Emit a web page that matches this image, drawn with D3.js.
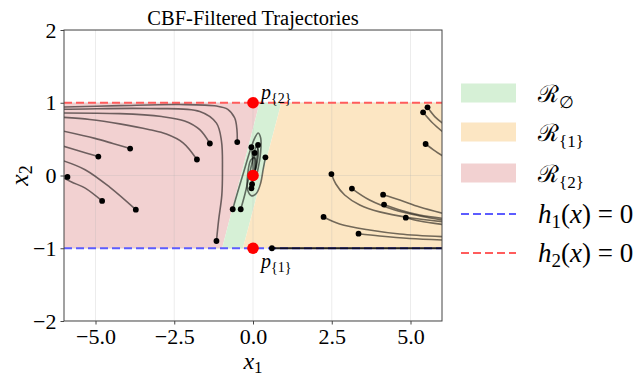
<!DOCTYPE html>
<html lang="en">
<head>
<meta charset="UTF-8">
<title>CBF-Filtered Trajectories</title>
<script src="https://d3js.org/d3.v7.min.js"></script>
<style>
    body { margin: 0; background: #fff; }
    svg text { font-family: "Liberation Serif", serif; fill: #000; }
    .math { font-style: italic; }
</style>
</head>
<body>
<div id="chart"></div>
<script>
// axis ticks
const xTicks = [-5, -2.5, 0, 2.5, 5];
const yTicks = [-2, -1, 0, 1, 2];

// region boundaries (slanted lines between y=-1 and y=1)
const leftBound = [[-0.98, -1], [0.21, 1]];
const rightBound = [[-0.32, -1], [0.90, 1]];

// special points
const pPoints = [[0, 1], [0, 0], [0, -1]];

// trajectories, first point is the start (dot)
const trajRed = [
    [[-3.90, 0.37], [-4.45, 0.44], [-5.02, 0.51], [-6.02, 0.61]],
    [[-4.91, 0.26], [-5.54, 0.34], [-6.07, 0.41]],
    [[-4.79, -0.35], [-5.34, -0.17], [-5.76, -0.09], [-6.07, -0.02]],
    [[-3.72, -0.47], [-4.55, -0.16], [-5.33, 0.08], [-6.07, 0.21]],
    [[-5.89, -0.02], [-6.05, 0.0]],
    [[-0.50, 0.46], [-0.51, 0.63], [-0.58, 0.79], [-0.80, 0.91], [-1.16, 0.955], [-2.33, 0.975], [-4.23, 0.96], [-6.05, 0.94]],
    [[-1.16, -0.90], [-1.09, -0.61], [-0.99, -0.27], [-0.97, 0.07], [-1.00, 0.47], [-1.16, 0.72], [-1.69, 0.88], [-3.28, 0.92], [-6.05, 0.91]],
    [[-1.37, 0.44], [-1.69, 0.63], [-2.17, 0.75], [-2.90, 0.81], [-4.23, 0.85], [-6.05, 0.86]],
    [[-1.78, 0.22], [-2.22, 0.45], [-2.75, 0.57], [-3.28, 0.63], [-4.23, 0.71], [-5.18, 0.77], [-6.05, 0.80]]
];
const trajGreen = [
    [[-0.644, -0.464], [-0.486, -0.227], [-0.295, 0.048], [-0.105, 0.323], [0.054, 0.515], [0.165, 0.584], [0.244, 0.515], [0.244, 0.323], [0.165, 0.103], [0.054, -0.062], [-0.04, -0.03]],
    [[-0.39, -0.464], [-0.263, -0.268], [-0.137, -0.034], [-0.01, 0.213], [0.10, 0.39], [0.165, 0.35], [0.117, 0.144], [0.02, 0.007]],
    [[0.394, 0.25], [0.32, 0.076], [0.244, -0.103], [0.117, -0.24], [-0.04, -0.28], [-0.17, -0.2], [-0.17, 0.007], [-0.07, 0.213], [0.054, 0.24], [0.086, 0.103], [0.02, 0.007]],
    [[0.16, 0.42], [0.117, 0.213], [0.054, 0.048]],
    [[-0.05, 0.39], [-0.01, 0.213], [0.005, 0.05]],
    [[0.054, 0.31], [0.054, 0.08]],
    [[-0.03, -0.12], [0.0, -0.035]],
    [[-0.05, -0.176], [-0.01, -0.06]]
];
const trajOrange = [
    [[2.49, 0.02], [2.63, -0.117], [2.91, -0.268], [3.39, -0.405], [4.02, -0.50], [4.97, -0.58], [6.02, -0.635]],
    [[3.14, -0.18], [3.70, -0.337], [4.50, -0.474], [5.29, -0.556], [6.02, -0.611]],
    [[4.13, -0.264], [4.66, -0.337], [5.29, -0.433], [6.02, -0.519]],
    [[4.16, -0.40], [4.66, -0.474], [5.29, -0.543], [6.02, -0.588]],
    [[4.85, -0.58], [5.29, -0.625], [6.02, -0.673]],
    [[2.24, -0.57], [2.75, -0.666], [3.70, -0.749], [4.66, -0.804], [6.02, -0.841]],
    [[3.35, -0.80], [4.02, -0.831], [4.97, -0.865], [6.02, -0.886]],
    [[5.54, 0.937], [5.77, 0.81], [6.02, 0.72]],
    [[5.40, 0.868], [5.67, 0.735], [6.02, 0.60]],
    [[5.48, 0.433], [5.74, 0.35], [6.02, 0.27]]
];
// trajectory sliding along the boundary h1 = 0
const trajEdge = [[0.6, -1], [6.05, -1]];

const W = 637, H = 379;
const margin = { top: 30, right: 195, bottom: 58, left: 64 };
const serif = "'Liberation Serif', serif";

const svg = d3.select("#chart").append("svg")
    .attr("width", W)
    .attr("height", H);

const x = d3.scaleLinear().domain([-6, 6]).range([margin.left, W - margin.right]);
const y = d3.scaleLinear().domain([-2, 2]).range([H - margin.bottom, margin.top]);

svg.append("clipPath").attr("id", "plot-clip")
    .append("rect")
    .attr("x", x(-6)).attr("y", y(2))
    .attr("width", x(6) - x(-6)).attr("height", y(-2) - y(2));

const plot = svg.append("g").attr("clip-path", "url(#plot-clip)");

// regions
const poly = pts => pts.map(p => [x(p[0]), y(p[1])].join(",")).join(" ");
const colGreen = "#d6f0d6", colOrange = "#fce6c3", colRed = "#f2d1d1";

plot.append("polygon")
    .attr("points", poly([[-6, -1], leftBound[0], leftBound[1], [-6, 1]]))
    .attr("fill", colRed);
plot.append("polygon")
    .attr("points", poly([leftBound[0], rightBound[0], rightBound[1], leftBound[1]]))
    .attr("fill", colGreen);
plot.append("polygon")
    .attr("points", poly([rightBound[0], [6, -1], [6, 1], rightBound[1]]))
    .attr("fill", colOrange);

// grid
plot.selectAll(".gx").data(xTicks).enter().append("line")
    .attr("x1", d => x(d)).attr("x2", d => x(d))
    .attr("y1", y(-2)).attr("y2", y(2))
    .attr("stroke", "#b0b0b0").attr("stroke-opacity", 0.3).attr("stroke-width", 0.8);
plot.selectAll(".gy").data(yTicks).enter().append("line")
    .attr("x1", x(-6)).attr("x2", x(6))
    .attr("y1", d => y(d)).attr("y2", d => y(d))
    .attr("stroke", "#b0b0b0").attr("stroke-opacity", 0.3).attr("stroke-width", 0.8);

// boundaries h1 = 0 and h2 = 0
plot.append("line")
    .attr("x1", x(-6)).attr("x2", x(6)).attr("y1", y(-1)).attr("y2", y(-1))
    .attr("stroke", "#5c5cff").attr("stroke-width", 2.2).attr("stroke-dasharray", "8,4");
plot.append("line")
    .attr("x1", x(-6)).attr("x2", x(6)).attr("y1", y(1)).attr("y2", y(1))
    .attr("stroke", "#ff5c5c").attr("stroke-width", 2.2).attr("stroke-dasharray", "8,4");

// trajectories
const line = d3.line().x(d => x(d[0])).y(d => y(d[1])).curve(d3.curveCatmullRom.alpha(0.5));
const allTraj = trajRed.concat(trajGreen, trajOrange);

plot.selectAll(".traj").data(allTraj).enter().append("path")
    .attr("class", "traj")
    .attr("d", line)
    .attr("fill", "none")
    .attr("stroke", "#000")
    .attr("stroke-opacity", 0.55)
    .attr("stroke-width", 1.6);

plot.append("path")
    .attr("d", line(trajEdge))
    .attr("fill", "none")
    .attr("stroke", "#000")
    .attr("stroke-opacity", 0.85)
    .attr("stroke-width", 2);

plot.selectAll(".start").data(allTraj.map(t => t[0]).concat([trajEdge[0]])).enter().append("circle")
    .attr("cx", d => x(d[0])).attr("cy", d => y(d[1]))
    .attr("r", 2.9).attr("fill", "#000");

// p points
svg.selectAll(".pp").data(pPoints).enter().append("circle")
    .attr("cx", d => x(d[0])).attr("cy", d => y(d[1]))
    .attr("r", 5.8).attr("fill", "#ff0000");

const pLab = svg.append("g");
[[1, "{2}", -4], [-1, "{1}", 20]].forEach(([v, sub, dy]) => {
    const t = pLab.append("text")
        .attr("x", x(0) + 8).attr("y", y(v) + dy)
        .attr("font-family", serif)
        .style("font-size", "20px");
    t.append("tspan").attr("class", "math").text("p");
    t.append("tspan").attr("dy", 4).style("font-size", "14px").text(sub);
});

// frame
svg.append("rect")
    .attr("x", x(-6)).attr("y", y(2))
    .attr("width", x(6) - x(-6)).attr("height", y(-2) - y(2))
    .attr("fill", "none").attr("stroke", "#444").attr("stroke-width", 1);

// axes
const gx = svg.append("g")
    .attr("transform", `translate(0,${y(-2)})`)
    .call(d3.axisBottom(x).tickValues(xTicks).tickFormat(d3.format(".1f")).tickSize(3.5).tickPadding(4));
const gy = svg.append("g")
    .attr("transform", `translate(${x(-6)},0)`)
    .call(d3.axisLeft(y).tickValues(yTicks).tickFormat(d3.format("d")).tickSize(3.5).tickPadding(4));
[gx, gy].forEach(g => {
    g.attr("font-family", serif).attr("font-size", 22);
    g.select(".domain").remove();
    g.selectAll(".tick line").attr("stroke", "#444");
    g.selectAll(".tick text").attr("fill", "#000").style("font-family", serif).style("font-size", "22px");
});

// title and labels
svg.append("text")
    .attr("x", (x(-6) + x(6)) / 2).attr("y", 25)
    .attr("text-anchor", "middle")
    .attr("font-family", serif)
    .style("font-size", "20.5px")
    .text("CBF-Filtered Trajectories");

const xl = svg.append("text")
    .attr("x", (x(-6) + x(6)) / 2).attr("y", 369)
    .attr("text-anchor", "middle")
    .attr("font-family", serif)
    .style("font-size", "24px");
xl.append("tspan").attr("class", "math").text("x");
xl.append("tspan").attr("dy", 4).style("font-size", "17px").text("1");

const yl = svg.append("text")
    .attr("transform", `translate(28,${y(0)}) rotate(-90)`)
    .attr("text-anchor", "middle")
    .attr("font-family", serif)
    .style("font-size", "26px");
yl.append("tspan").attr("class", "math").text("x");
yl.append("tspan").attr("dy", 4).style("font-size", "18px").text("2");

// legend
const legend = svg.append("g");
const legItems = [
    { type: "patch", color: colGreen, sub: "∅", cy: 93 },
    { type: "patch", color: colOrange, sub: "{1}", cy: 132 },
    { type: "patch", color: colRed, sub: "{2}", cy: 173 },
    { type: "dash", color: "#5c5cff", h: "1", cy: 214 },
    { type: "dash", color: "#ff5c5c", h: "2", cy: 253 }
];
legItems.forEach(it => {
    if (it.type === "patch") {
        legend.append("rect")
            .attr("x", 461).attr("y", it.cy - 9.5)
            .attr("width", 55).attr("height", 19)
            .attr("fill", it.color);
        const t = legend.append("text")
            .attr("x", 538).attr("y", it.cy + 9)
            .attr("font-family", serif)
            .style("font-size", "27px");
        t.append("tspan").style("font-family", "'DejaVu Serif', serif").style("font-size", "24px").text("ℛ");
        t.append("tspan").attr("dy", 6).style("font-size", "17px").text(it.sub);
    } else {
        legend.append("line")
            .attr("x1", 461).attr("x2", 516)
            .attr("y1", it.cy).attr("y2", it.cy)
            .attr("stroke", it.color).attr("stroke-width", 2.2)
            .attr("stroke-dasharray", "8,4");
        const t = legend.append("text")
            .attr("x", 538).attr("y", it.cy + 9)
            .attr("font-family", serif)
            .style("font-size", "27px");
        t.append("tspan").attr("class", "math").text("h");
        t.append("tspan").attr("dy", 5).style("font-size", "19px").text(it.h);
        t.append("tspan").attr("dy", -5).text("(");
        t.append("tspan").attr("class", "math").text("x");
        t.append("tspan").text(") = 0");
    }
});
</script>
</body>
</html>
